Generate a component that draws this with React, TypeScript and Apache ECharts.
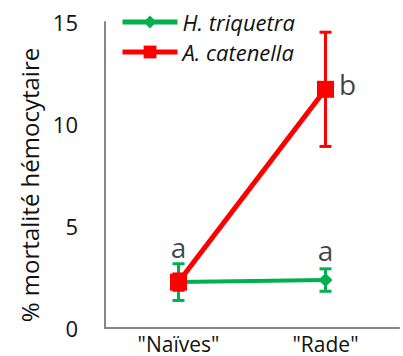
import React, { useEffect, useRef } from "react";
import * as echarts from "echarts";

const categories = ['"Naïves"', '"Rade"'];
const triquetraName = "H. triquetra";
const catenellaName = "A. catenella";
const triquetraMean = [2.25, 2.35];
const triquetraErr = [0.9, 0.55];
const catenellaMean = [2.25, 11.7];
const catenellaErr = [0.4, 2.8];
const yTicks = [0, 5, 10, 15];
const letterCats = [0, 1, 1];
const letterValues = [3.95, 3.8, 11.95];
const letterTexts = ["a", "a", "b"];

const GREEN = "#00B050";
const RED = "#FF0000";
const TEXT = "#111111";
const FONT = "'Open Sans', sans-serif";

function errData(mean: number[], err: number[]) {
  return mean.map((m, i) => [i, m - err[i], m + err[i]]);
}

function makeErrSeries(mean: number[], err: number[], color: string, z: number) {
  return {
    type: "custom",
    z,
    silent: true,
    data: errData(mean, err),
    renderItem: (params: any, api: any) => {
      const x = api.value(0);
      const lo = api.coord([x, api.value(1)]);
      const hi = api.coord([x, api.value(2)]);
      const half = 6;
      const style = { stroke: color, lineWidth: 3 };
      return {
        type: "group",
        children: [
          { type: "line", shape: { x1: lo[0], y1: lo[1], x2: hi[0], y2: hi[1] }, style },
          { type: "line", shape: { x1: hi[0] - half, y1: hi[1], x2: hi[0] + half, y2: hi[1] }, style },
          { type: "line", shape: { x1: lo[0] - half, y1: lo[1], x2: lo[0] + half, y2: lo[1] }, style },
        ],
      };
    },
  };
}

export default function App() {
  const ref = useRef<HTMLDivElement>(null);
  useEffect(() => {
    if (!ref.current) return;
    const chart = echarts.init(ref.current, undefined, { renderer: "svg" });
    const letterData = letterCats.map((c, i) => {
      const item: any = { value: [c, letterValues[i]], label: { formatter: letterTexts[i] } };
      if (letterTexts[i] === "b") item.label.offset = [22, 0];
      return item;
    });
    chart.setOption({
      animation: false,
      textStyle: { fontFamily: FONT },
      grid: { left: 105, right: 4, top: 22, bottom: 28, containLabel: false },
      legend: {
        orient: "vertical",
        left: 115,
        top: 2,
        itemWidth: 55,
        itemHeight: 16,
        itemGap: 0,
        data: [
          { name: triquetraName, lineStyle: { width: 5, color: GREEN } },
          { name: catenellaName, lineStyle: { width: 5, color: RED } },
        ],
        textStyle: { fontFamily: FONT, fontSize: 22, lineHeight: 30, fontStyle: "italic", color: TEXT },
      },
      xAxis: {
        type: "category",
        data: categories,
        boundaryGap: true,
        axisLine: { lineStyle: { color: "#868686", width: 2 } },
        axisTick: { show: false },
        axisLabel: { fontSize: 21, lineHeight: 21, color: TEXT, margin: 5, fontFamily: FONT },
        splitLine: { show: false },
      },
      yAxis: {
        type: "value",
        min: yTicks[0],
        max: yTicks[yTicks.length - 1],
        interval: 5,
        name: "% mortalité hémocytaire",
        nameLocation: "middle",
        nameGap: 60,
        nameTextStyle: { fontSize: 24, color: TEXT, fontFamily: FONT, padding: [0, 20, 0, 0] },
        axisLine: { show: true, lineStyle: { color: "#868686", width: 2 } },
        axisTick: { show: false },
        axisLabel: { fontSize: 22, color: TEXT, margin: 27, fontFamily: FONT },
        splitLine: { show: false },
      },
      series: [
        makeErrSeries(triquetraMean, triquetraErr, GREEN, 1),
        {
          name: triquetraName,
          type: "line",
          z: 2,
          data: triquetraMean,
          symbol: "diamond",
          symbolSize: 14,
          lineStyle: { color: GREEN, width: 4 },
          itemStyle: { color: GREEN },
        },
        makeErrSeries(catenellaMean, catenellaErr, RED, 3),
        {
          name: catenellaName,
          type: "line",
          z: 4,
          data: catenellaMean,
          symbol: "rect",
          symbolSize: 17,
          lineStyle: { color: RED, width: 5 },
          itemStyle: { color: RED },
        },
        {
          type: "scatter",
          z: 5,
          symbolSize: 0,
          silent: true,
          data: letterData,
          label: { show: true, position: "inside", fontSize: 28, color: TEXT, fontFamily: FONT },
        },
      ],
    });
    return () => chart.dispose();
  }, []);
  return <div ref={ref} style={{ width: 403, height: 356, position: "absolute", left: 0, top: 0 }} />;
}
